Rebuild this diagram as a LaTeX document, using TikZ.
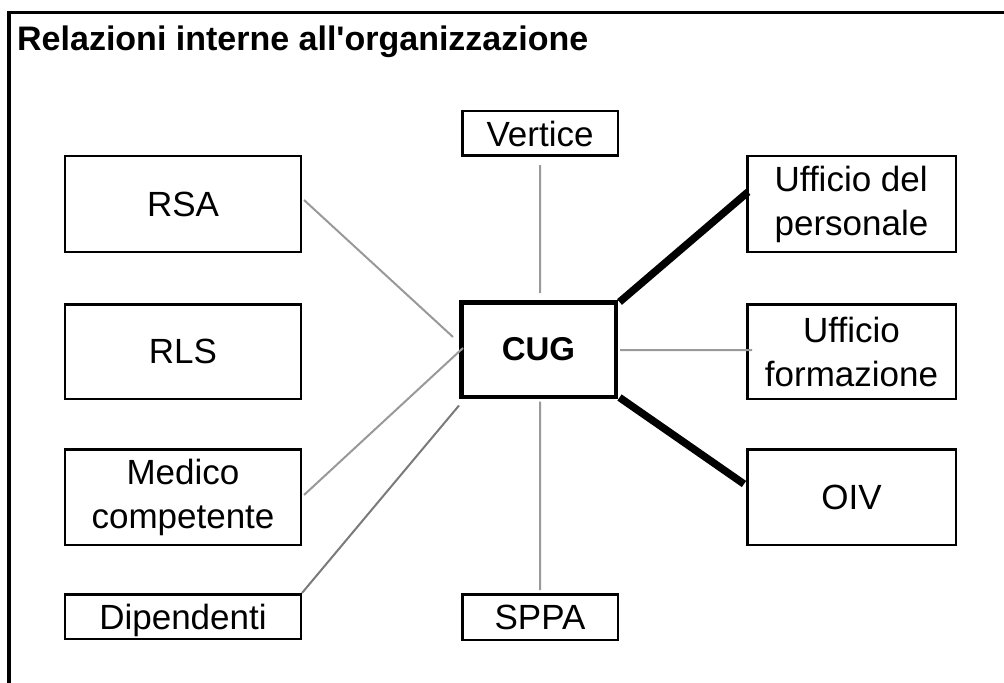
\documentclass[tikz,border=0pt]{standalone}
\usepackage{fontspec}
\setmainfont{Liberation Sans}
\newfontfamily\titlefont{Liberation Sans}
\usetikzlibrary{calc}
\tikzset{
  box/.style={draw=black, line width=2.5bp, rectangle, inner sep=0pt, align=center,
    font=\fontsize{35bp}{44bp}\selectfont},
  cugbox/.style={draw=black, line width=4.5bp, rectangle, inner sep=0pt,
    font=\fontsize{33bp}{38bp}\selectfont\bfseries},
  link/.style={draw=black!40, line width=2bp},
  darklink/.style={draw=black!52, line width=2bp},
  strong/.style={draw=black, line width=7.5bp},
}
\begin{document}
\begin{tikzpicture}[x=1bp,y=-1bp]
\useasboundingbox (0,0) rectangle (1004,683);
% frame (top and left only visible)
\draw[line width=3.2bp] (9,690) -- (9,12.5) -- (1010,12.5);
\node[anchor=base west, inner sep=0pt, font=\titlefont\fontsize{34bp}{38bp}\selectfont\bfseries] (title) at (17,51) {Relazioni interne all'organizzazione};
% nodes
\node[box, minimum width=155.5bp, minimum height=44.5bp] (vertice) at (540,133.5) {Vertice};
\node[box, minimum width=235.5bp, minimum height=95.5bp] (rsa) at (183,204) {RSA};
\node[box, minimum width=235.5bp, minimum height=94.5bp] (rls) at (183,351.5) {RLS};
\node[box, minimum width=235.5bp, minimum height=95.5bp] (medico) at (183,497) {Medico\\competente};
\node[box, minimum width=235.5bp, minimum height=44.5bp, text depth=0pt] (dip) at (183,616.5) {Dipendenti};
\node[box, minimum width=155.5bp, minimum height=45.5bp] (sppa) at (540,617) {SPPA};
\node[cugbox, minimum width=154.5bp, minimum height=94.5bp] (cug) at (538.5,349.5) {CUG};
\node[box, minimum width=208.5bp, minimum height=95.5bp, align=left] (uffpers) at (851.5,204) {Ufficio del\\personale};
\node[box, minimum width=208.5bp, minimum height=94.5bp] (uffform) at (851.5,351.5) {Ufficio\\formazione};
\node[box, minimum width=208.5bp, minimum height=95.5bp] (oiv) at (851.5,497) {OIV};
% connectors
\draw[link] ($(vertice.south)+(0,8)$) -- ($(cug.north)+(1.5,-7)$);
\draw[link] ($(rsa.east)+(2,-4)$) -- ($(cug.west)+(-6,-12.5)$);
\draw[link] ($(medico.east)+(2,-2)$) -- ($(cug.west)+(4,-1.5)$);
\draw[darklink] ($(dip.east)+(0,-23.5)$) -- ($(cug.south west)+(0,6.5)$);
\draw[link] ($(cug.east)+(2,0.5)$) -- ($(uffform.west)+(6,-1.5)$);
\draw[link] ($(cug.south)+(1.5,2.5)$) -- ($(sppa.north)+(0,-3)$);
\draw[strong] ($(cug.north east)+(1.5,2)$) -- ($(uffpers.west)+(2,-12)$);
\draw[strong] ($(cug.south east)+(1.5,-1.5)$) -- ($(oiv.west)+(-2,-13)$);
\end{tikzpicture}
\end{document}
